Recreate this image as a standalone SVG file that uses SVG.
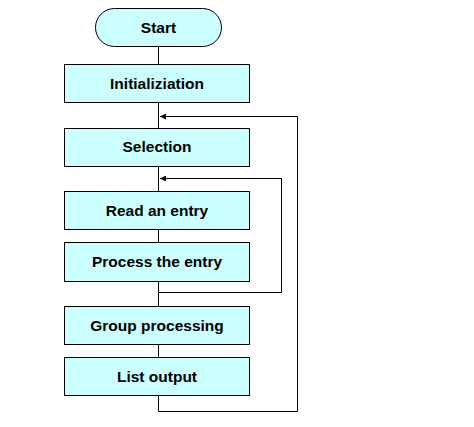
<svg xmlns="http://www.w3.org/2000/svg" width="474" height="427" viewBox="0 0 474 427">
<defs>
<style>
.box{fill:#ccffff;stroke:#000;stroke-width:1}
.lbl{font-family:"Liberation Sans",Arial,sans-serif;font-size:15.5px;font-weight:bold;fill:#000;text-anchor:middle}
.ln{fill:none;stroke:#000;stroke-width:1}
</style>
<marker id="ah" markerWidth="8" markerHeight="6" refX="6" refY="3" orient="auto" markerUnits="userSpaceOnUse">
<path d="M0,0 L6,3 L0,6 Z" fill="#000"/>
</marker>
</defs>
<rect width="474" height="427" fill="#fff"/>
<g id="connectors">
<path class="ln" d="M158.5,47 V64"/>
<path class="ln" d="M158.5,103 V128"/>
<path class="ln" d="M158.5,166 V191"/>
<path class="ln" d="M158.5,230 V242"/>
<path class="ln" d="M158.5,282 V306"/>
<path class="ln" d="M158.5,345 V357"/>
<path class="ln" d="M158.5,396 V411.5 H297.5 V116.5 H160" marker-end="url(#ah)"/>
<path class="ln" d="M158.5,292.5 H281.5 V178.5 H160" marker-end="url(#ah)"/>
</g>
<g id="start">
<rect class="box" x="95.5" y="8.5" width="126" height="38" rx="19" ry="19"/>
<text class="lbl" x="158.5" y="33">Start</text>
</g>
<g id="init">
<rect class="box" x="64.5" y="64.5" width="185" height="38"/>
<text class="lbl" x="157" y="89">Initializiation</text>
</g>
<g id="selection">
<rect class="box" x="64.5" y="128.5" width="185" height="38"/>
<text class="lbl" x="157" y="152">Selection</text>
</g>
<g id="read">
<rect class="box" x="64.5" y="191.5" width="185" height="38"/>
<text class="lbl" x="157" y="216">Read an entry</text>
</g>
<g id="process">
<rect class="box" x="64.5" y="242.5" width="185" height="39"/>
<text class="lbl" x="157" y="267">Process the entry</text>
</g>
<g id="group">
<rect class="box" x="64.5" y="306.5" width="185" height="38"/>
<text class="lbl" x="157" y="331">Group processing</text>
</g>
<g id="list">
<rect class="box" x="64.5" y="357.5" width="185" height="38"/>
<text class="lbl" x="157" y="382">List output</text>
</g>
</svg>
